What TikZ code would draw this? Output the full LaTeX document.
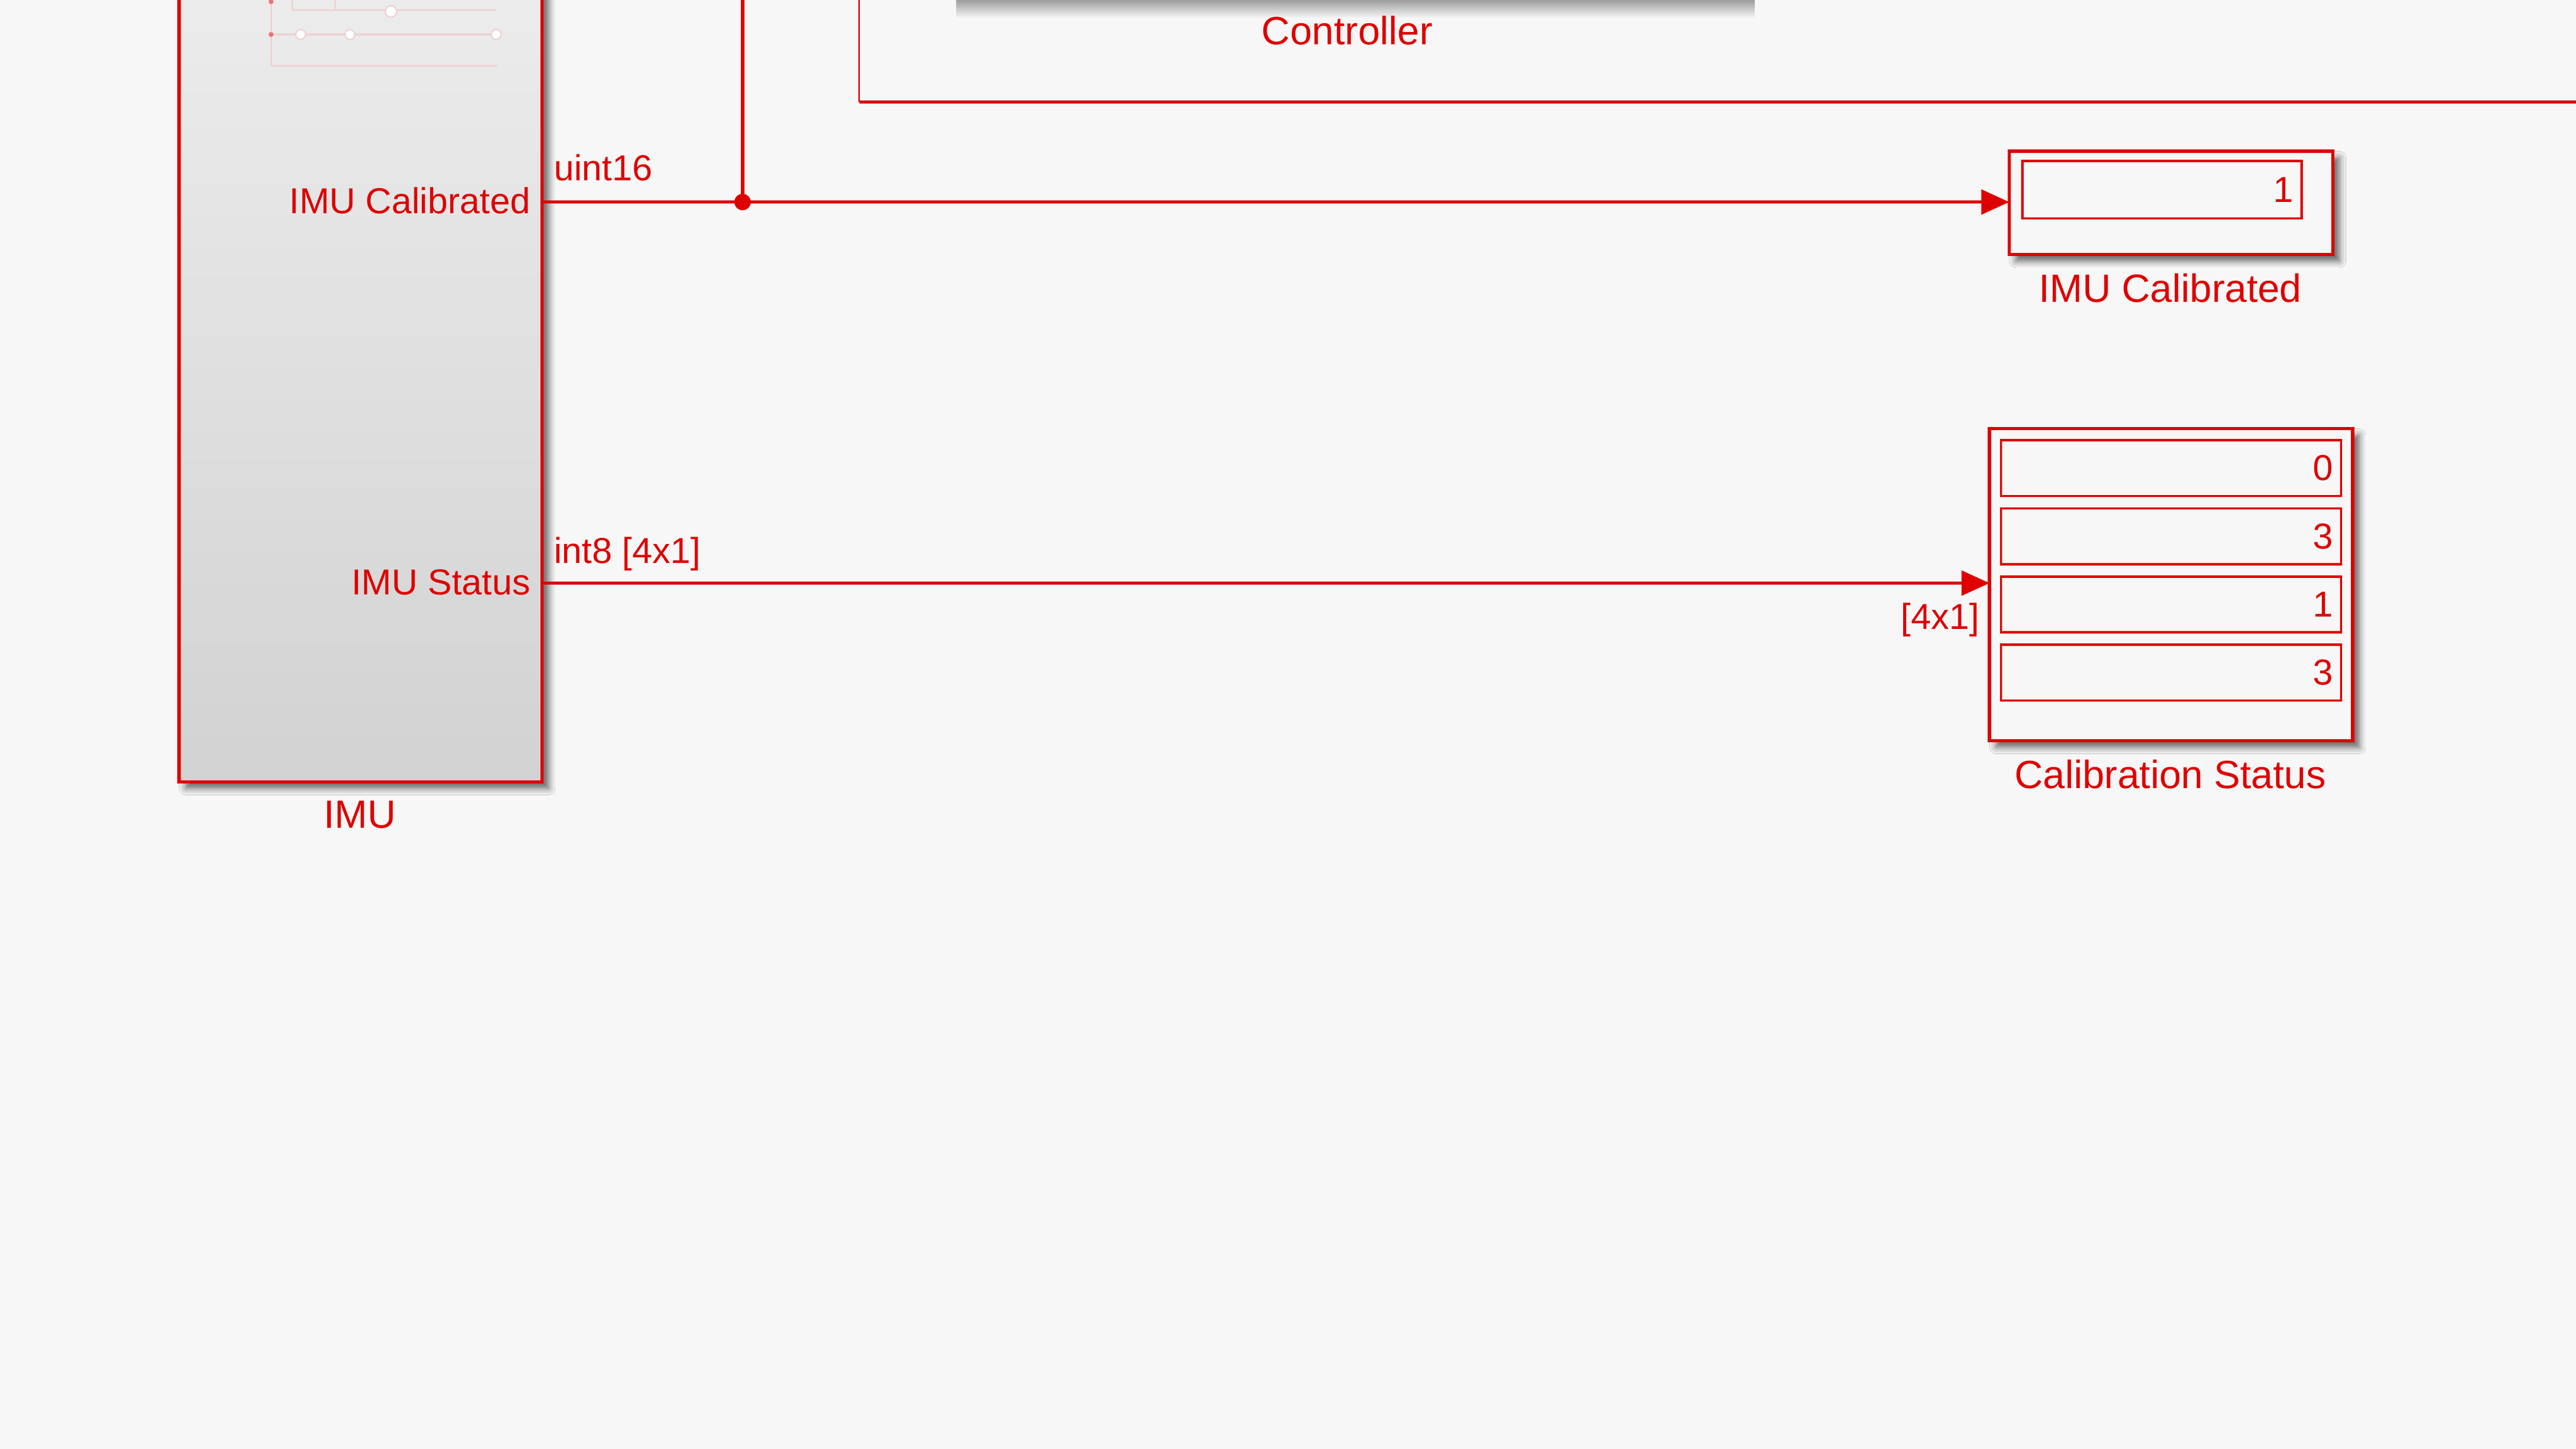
\documentclass[tikz,border=0pt]{standalone}
\usepackage{fontspec}
\setmainfont{Liberation Sans}
\usetikzlibrary{arrows.meta,shadows.blur}
\definecolor{simred}{RGB}{222,0,0}
\definecolor{canvas}{RGB}{247,247,247}
\definecolor{faintred}{RGB}{240,208,208}
\definecolor{imutop}{RGB}{240,240,240}
\definecolor{imubot}{RGB}{210,210,210}
\definecolor{shadowgray}{RGB}{148,148,148}

\begin{document}
\begin{tikzpicture}[x=1pt,y=-1pt,
        block/.style={draw=simred,line width=2pt,inner sep=0pt,outer sep=0pt,fill=canvas,
            blur shadow={shadow xshift=4pt,shadow yshift=-4pt,shadow blur radius=4pt,shadow opacity=60}},
        field/.style={draw=simred,line width=1.5pt,inner sep=0pt,minimum height=34pt,
            align=right,text=simred,font=\fontsize{22}{24}\selectfont},
        lbl/.style={text=simred,font=\fontsize{24}{26}\selectfont,inner sep=0pt},
        sig/.style={text=simred,font=\fontsize{22}{24}\selectfont,inner sep=0pt},
        wire/.style={draw=simred,line width=2pt,-{Triangle[length=17pt,width=15pt]}}]
        \useasboundingbox (0,0) rectangle (1568,882);
        \fill[canvas] (0,0) rectangle (1568,882);
        \clip (0,0) rectangle (1568,882);

        % IMU subsystem
        \node[block,top color=imutop,bottom color=imubot,minimum width=221pt,minimum height=560pt] (imu) at (219.5,196) {};
        \node[lbl,anchor=base] (imulbl) at (219,504) {IMU};
        \draw[faintred,line width=1pt] (165,-5) -- (165,40) -- (303,40);
        \draw[faintred,line width=1pt] (165,21) -- (303,21);
        \draw[faintred,line width=1pt] (178,-5) -- (178,6) -- (302,6);
        \draw[faintred,line width=1pt] (204,6) -- (204,-5);
        \foreach \cx in {183,213,302}
            \draw[faintred,fill=white,line width=0.8pt] (\cx,21) circle (3pt);
        \draw[faintred,fill=white,line width=0.8pt] (238,7) circle (3.5pt);
        \fill[simred!55] (165,1) circle (1.5pt);
        \fill[simred!55] (165,21) circle (1.5pt);
        \node[sig,anchor=base east] (pcal) at (323,130) {IMU Calibrated};
        \node[sig,anchor=base east] (pstat) at (323,362) {IMU Status};
        \coordinate (calout) at (331,123);
        \coordinate (statout) at (331,355);

        % Controller (off the top edge, only its shadow shows)
        \node[draw=simred,line width=2pt,minimum width=488pt,minimum height=110pt] (ctrl) at (822,-60) {};
        \shade[top color=shadowgray,bottom color=canvas] (582,-1) rectangle (1068,11);
        \node[lbl,anchor=base] (ctrllbl) at (820,27) {Controller};
        \coordinate (ctrlin) at (452,-10);

        % enclosing area line
        \coordinate (area1) at (523,-10);
        \coordinate (area2) at (523,62);
        \coordinate (area3) at (1580,62);
        \draw[simred,line width=1pt] (area1) -- (area2);
        \draw[simred,line width=2pt] (area2) -- (area3);

        % displays
        \node[block,minimum width=197pt,minimum height=63pt] (dcal) at (1321.5,123.5) {};
        \node[field,minimum width=170pt,minimum height=35pt,text width=160pt] (dcalv) at (1316,115.5) {1};
        \node[lbl,anchor=base] (dcallbl) at (1321,184) {IMU Calibrated};

        \node[block,minimum width=221pt,minimum height=190pt] (dstat) at (1321.5,356) {};
        \foreach \v [count=\i] in {0,3,1,3}
            \node[field,minimum width=207pt,text width=197pt] (stat\i) at (1321.5,243.5+41.5*\i) {\v};
        \node[lbl,anchor=base] (dstatlbl) at (1321,480) {Calibration Status};

        % signals
        \coordinate (tap) at (452,123);
        \draw[simred,line width=2pt] (calout) -- (tap);
        \draw[simred,line width=2pt] (tap) -- (ctrlin);
        \draw[wire] (tap) -- (tap -| dcal.west);
        \fill[simred] (tap) circle (5pt);
        \draw[wire] (statout) -- (statout -| dstat.west);
        \node[sig,anchor=base west] (t16) at (337,110) {uint16};
        \node[sig,anchor=base west] (t8) at (337,343) {int8 [4x1]};
        \node[sig,anchor=base east] (dim) at (1205,383) {[4x1]};
\end{tikzpicture}
\end{document}
